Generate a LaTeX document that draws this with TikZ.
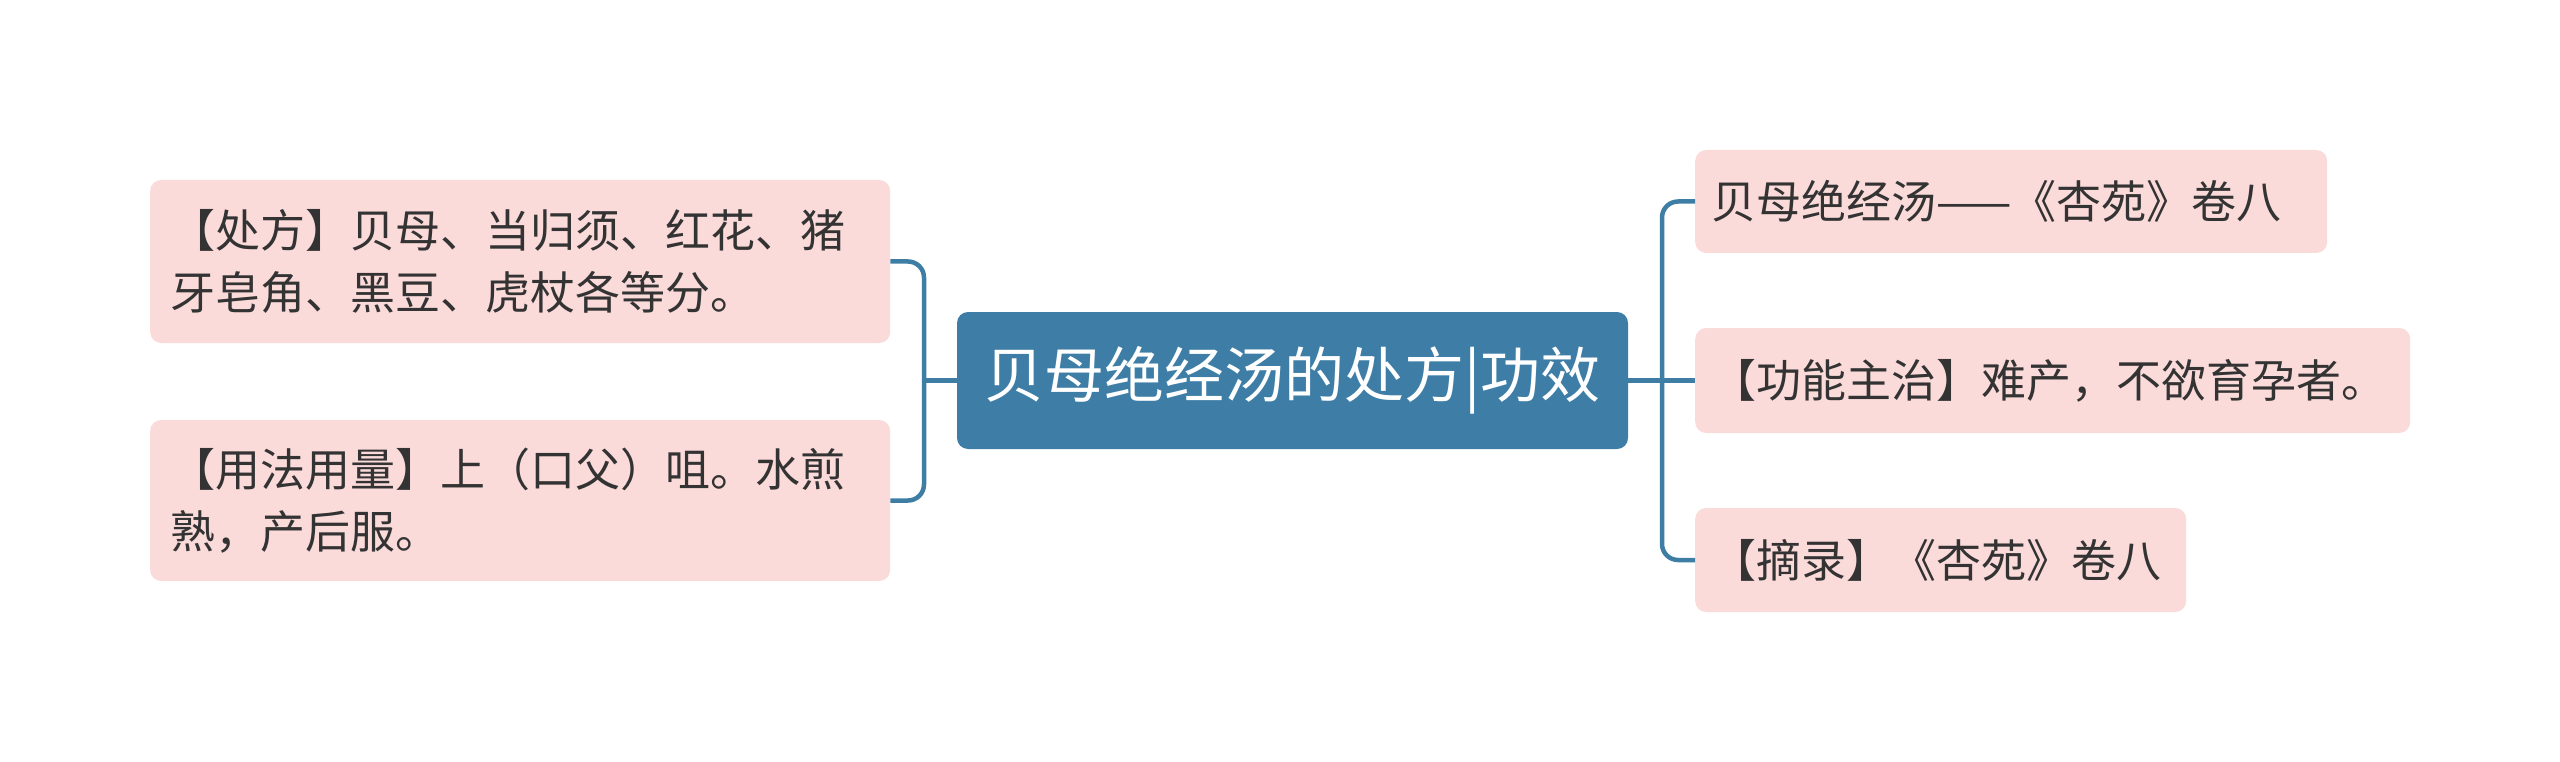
\documentclass[tikz,border=0pt]{standalone}
\usepackage{fontspec}
\newfontfamily\cjk{Noto Sans CJK SC}
\definecolor{mainblue}{HTML}{3E7EA6}
\definecolor{linkblue}{HTML}{3F7EA4}
\definecolor{pinkfill}{HTML}{FBDADA}
\definecolor{txt}{HTML}{333333}
\begin{document}
\begin{tikzpicture}[x=1pt,y=-1pt,
  leaf/.style={fill=pinkfill, rounded corners=11pt, inner sep=0pt, text=txt,
    font=\cjk\fontsize{45}{62}\selectfont, align=left, anchor=west, minimum height=104pt},
  root/.style={fill=mainblue, rounded corners=11pt, inner sep=0pt, text=white,
    font=\cjk\fontsize{60}{70}\selectfont, minimum width=671pt, minimum height=137pt},
  link/.style={draw=linkblue, line width=4.5pt, rounded corners=16pt}]
\useasboundingbox (0,0) rectangle (2560,762);
\node[root] (c) at (1292.5,380.5) {贝母绝经汤的处方|功效};
\node[leaf, minimum width=740pt, minimum height=163pt, text width=700pt, inner xsep=20pt] (lt) at (150,261.5)
  {【处方】贝母、当归须、红花、猪\\牙皂角、黑豆、虎杖各等分。};
\node[leaf, minimum width=740pt, minimum height=161pt, text width=700pt, inner xsep=20pt] (lb) at (150,500.5)
  {【用法用量】上（口父）咀。水煎\\熟，产后服。};
\node[leaf, minimum width=632pt, minimum height=103pt, text width=600pt, inner xsep=16pt] (rt) at (1695,201.5)
  {贝母绝经汤——《杏苑》卷八};
\node[leaf, minimum width=715pt, minimum height=105pt, text width=683pt, inner xsep=16pt] (rm) at (1695,380.5)
  {【功能主治】难产，不欲育孕者。};
\node[leaf, minimum width=491pt, minimum height=104pt, text width=459pt, inner xsep=16pt] (rb) at (1695,560)
  {【摘录】《杏苑》卷八};
\coordinate (lx) at (924,0);
\coordinate (rx) at (1662,0);
\draw[link] (c.west) -- (c.west -| lx);
\draw[link] (lt.east) -- (lt.east -| lx) -- (lb.east -| lx) -- (lb.east);
\draw[link] (c.east) -- (rm.west);
\draw[link] (rt.west) -- (rt.west -| rx) -- (rb.west -| rx) -- (rb.west);
\end{tikzpicture}
\end{document}
